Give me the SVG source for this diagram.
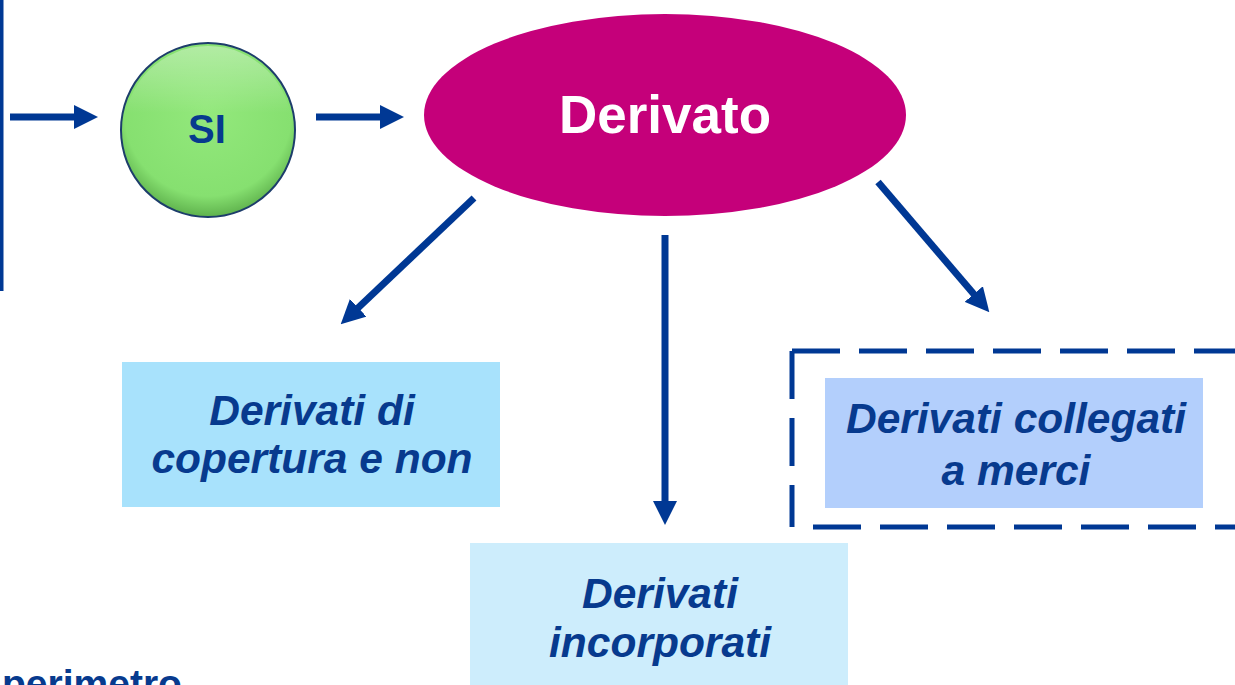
<svg xmlns="http://www.w3.org/2000/svg" width="1235" height="685" viewBox="0 0 1235 685">
<defs>
<style>
.lbl{font-family:"Liberation Sans",Arial,sans-serif;font-weight:bold;font-style:italic;font-size:42.5px;fill:#073a8e;text-anchor:middle}
.conn{stroke:#003894;stroke-width:7;fill:none}
.dash{stroke:#003894;stroke-width:5;fill:none;stroke-dasharray:48 19}
</style>
<marker id="ah" viewBox="0 0 24 24" refX="1" refY="12" markerWidth="24" markerHeight="24" markerUnits="userSpaceOnUse" orient="auto">
<path d="M0,0 L24,12 L0,24 z" fill="#003894"/>
</marker>
<radialGradient id="g" cx="0.5" cy="0.4" r="0.6">
<stop offset="0" stop-color="#93e87c"/>
<stop offset="0.8" stop-color="#86e070"/>
<stop offset="1" stop-color="#5fb24d"/>
</radialGradient>
<linearGradient id="hl" x1="0" y1="0" x2="0" y2="1">
<stop offset="0" stop-color="#ffffff" stop-opacity="0.35"/>
<stop offset="0.4" stop-color="#ffffff" stop-opacity="0"/>
</linearGradient>
</defs>
<rect width="1235" height="685" fill="#ffffff"/>
<g id="leftbar"><rect x="0" y="0" width="3.5" height="291" fill="#003894"/></g>
<g id="connectors">
<line class="conn" x1="10" y1="117" x2="75" y2="117" marker-end="url(#ah)"/>
<line class="conn" x1="316" y1="117" x2="381" y2="117" marker-end="url(#ah)"/>
<line class="conn" x1="474" y1="198" x2="357.4" y2="308.5" marker-end="url(#ah)"/>
<line class="conn" x1="665" y1="235" x2="665" y2="502" marker-end="url(#ah)"/>
<line class="conn" x1="878" y1="182" x2="974.4" y2="294.8" marker-end="url(#ah)"/>
</g>
<g id="si">
<circle cx="208" cy="130" r="87" fill="url(#g)" stroke="#1d3d6b" stroke-width="2"/>
<circle cx="208" cy="130" r="84" fill="url(#hl)"/>
<text x="207" y="143" font-family="Liberation Sans,Arial,sans-serif" font-weight="bold" font-size="40" fill="#073a8e" text-anchor="middle">SI</text>
</g>
<g id="derivato">
<ellipse cx="665" cy="115" rx="241" ry="101" fill="#c5007a"/>
<text x="665" y="133" font-family="Liberation Sans,Arial,sans-serif" font-weight="bold" font-size="53" fill="#ffffff" text-anchor="middle">Derivato</text>
</g>
<g id="copertura">
<rect x="122" y="362" width="378" height="145" fill="#a8e2fc"/>
<text class="lbl" x="312" y="425">Derivati di</text>
<text class="lbl" x="312" y="473">copertura e non</text>
</g>
<g id="incorporati">
<rect x="470" y="543" width="378" height="150" fill="#cdedfc"/>
<text class="lbl" x="660" y="608">Derivati</text>
<text class="lbl" x="660" y="657">incorporati</text>
</g>
<g id="merci">
<line class="dash" x1="792" y1="351" x2="1240" y2="351"/>
<line class="dash" x1="792" y1="351" x2="792" y2="527"/>
<line class="dash" x1="813" y1="527" x2="1240" y2="527"/>
<rect x="825" y="378" width="378" height="130" fill="#b3cffc"/>
<text class="lbl" x="1016" y="433">Derivati collegati</text>
<text class="lbl" x="1016" y="485">a merci</text>
</g>
<g id="perimetro">
<text x="2" y="697" font-family="Liberation Sans,Arial,sans-serif" font-weight="bold" font-size="39" fill="#073a8e">perimetro</text>
</g>
</svg>
